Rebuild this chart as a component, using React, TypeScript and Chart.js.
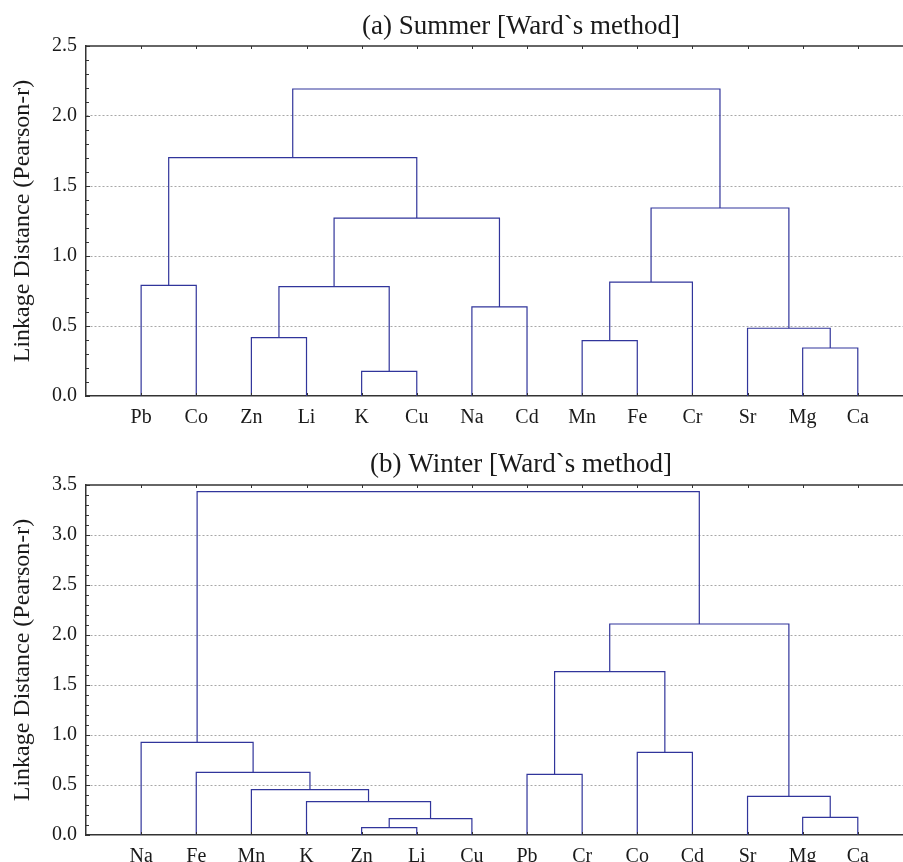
import React, { useEffect, useRef } from 'react';
import { Chart, registerables } from 'chart.js';

Chart.register(...registerables);

// ---------- Data ----------
const summerLeaves = ['Pb', 'Co', 'Zn', 'Li', 'K', 'Cu', 'Na', 'Cd', 'Mn', 'Fe', 'Cr', 'Sr', 'Mg', 'Ca'];
// merge k joins summerLeft[k] and summerRight[k] at summerHeight[k]; '#n' refers to merge n
const summerLeft = ['Pb', 'Zn', 'K', '#1', 'Na', '#3', '#0', 'Mn', '#7', 'Mg', 'Sr', '#8', '#6'];
const summerRight = ['Co', 'Li', 'Cu', '#2', 'Cd', '#4', '#5', 'Fe', 'Cr', 'Ca', '#9', '#10', '#11'];
const summerHeight = [0.79, 0.417, 0.176, 0.781, 0.636, 1.271, 1.703, 0.396, 0.814, 0.343, 0.484, 1.343, 2.193];

const winterLeaves = ['Na', 'Fe', 'Mn', 'K', 'Zn', 'Li', 'Cu', 'Pb', 'Cr', 'Co', 'Cd', 'Sr', 'Mg', 'Ca'];
const winterLeft = ['Zn', '#0', 'K', 'Mn', 'Fe', 'Na', 'Pb', 'Co', '#6', 'Mg', 'Sr', '#8', '#5'];
const winterRight = ['Li', 'Cu', '#1', '#2', '#3', '#4', 'Cr', 'Cd', '#7', 'Ca', '#9', '#10', '#11'];
const winterHeight = [0.073, 0.163, 0.333, 0.453, 0.627, 0.927, 0.607, 0.827, 1.633, 0.177, 0.387, 2.11, 3.433];

const summerTitle = '(a) Summer [Ward`s method]';
const winterTitle = '(b) Winter [Ward`s method]';
const yTitle = 'Linkage Distance (Pearson-r)';
const summerYMax = 2.5;
const winterYMax = 3.5;

// ---------- Helpers ----------
const LINE = '#31359b';
const AXIS = '#333333';
const TEXT = '#1a1a1a';
const FONT = '"Liberation Serif", "Times New Roman", serif';

function buildDatasets(leaves: string[], lefts: string[], rights: string[], heights: number[]) {
  const pos: { x: number; y: number }[] = [];
  const resolve = (ref: string) => {
    if (ref.startsWith('#')) return pos[parseInt(ref.slice(1), 10)];
    return { x: leaves.indexOf(ref), y: 0 };
  };
  const datasets: any[] = [];
  for (let k = 0; k < heights.length; k++) {
    const a = resolve(lefts[k]);
    const b = resolve(rights[k]);
    const h = heights[k];
    pos[k] = { x: (a.x + b.x) / 2, y: h };
    datasets.push({
      data: [
        { x: a.x, y: a.y },
        { x: a.x, y: h },
        { x: b.x, y: h },
        { x: b.x, y: b.y },
      ],
      showLine: true,
      borderColor: LINE,
      borderWidth: 1.2,
      pointRadius: 0,
      tension: 0,
      fill: false,
    });
  }
  return datasets;
}

const framePlugin = {
  id: 'dendroFrame',
  afterDraw(chart: any, _args: any, opts: any) {
    const { ctx, chartArea: a, scales } = chart;
    const ys = scales.y;
    const xs = scales.x;
    ctx.save();
    ctx.strokeStyle = AXIS;
    ctx.lineWidth = 1.5;
    ctx.beginPath();
    ctx.moveTo(a.left, a.top);
    ctx.lineTo(a.right, a.top);
    ctx.stroke();
    ctx.lineWidth = 1;
    ctx.beginPath();
    const n = Math.round(opts.yMax * 10);
    for (let k = 0; k <= n; k++) {
      const py = Math.round(ys.getPixelForValue(k / 10)) + 0.5;
      ctx.moveTo(a.left, py);
      ctx.lineTo(a.left + (k % 5 === 0 ? 4 : 3), py);
    }
    for (let i = 0; i < opts.count; i++) {
      const px = Math.round(xs.getPixelForValue(i)) + 0.5;
      ctx.moveTo(px, a.top);
      ctx.lineTo(px, a.top + 3);
      ctx.moveTo(px, a.bottom);
      ctx.lineTo(px, a.bottom - 3);
    }
    ctx.stroke();
    ctx.font = `27px ${FONT}`;
    ctx.fillStyle = TEXT;
    ctx.textAlign = 'center';
    ctx.textBaseline = 'middle';
    ctx.fillText(opts.text, opts.tx, opts.ty);
    ctx.restore();
  },
};

type Props = {
  leaves: string[];
  lefts: string[];
  rights: string[];
  heights: number[];
  yMax: number;
  title: string;
  top: number;
  height: number;
  areaTop: number;
  areaBottom: number;
  titleY: number;
};

function Dendrogram(p: Props) {
  const ref = useRef<HTMLCanvasElement>(null);
  useEffect(() => {
    if (!ref.current) return;
    const chart = new Chart(ref.current, {
      type: 'scatter',
      data: { datasets: buildDatasets(p.leaves, p.lefts, p.rights, p.heights) },
      plugins: [framePlugin],
      options: {
        responsive: false,
        animation: false,
        devicePixelRatio: 1,
        layout: { padding: { top: p.areaTop, left: 0, right: 0, bottom: 0 } },
        plugins: {
          legend: { display: false },
          tooltip: { enabled: false },
          title: { display: false },
          dendroFrame: { text: p.title, tx: 521, ty: p.titleY, yMax: p.yMax, count: p.leaves.length },
        } as any,
        scales: {
          x: {
            type: 'linear',
            min: -1,
            max: 13.82,
            afterFit: (s: any) => {
              s.height = p.height - p.areaBottom;
            },
            afterBuildTicks: (s: any) => {
              s.ticks = p.leaves.map((_, i) => ({ value: i }));
            },
            grid: { display: false, drawTicks: false },
            border: { display: true, color: AXIS, width: 1.5 },
            ticks: {
              autoSkip: false,
              maxRotation: 0,
              padding: 10,
              color: TEXT,
              font: { family: FONT, size: 20 },
              callback: (v: any) => p.leaves[Math.round(v)] ?? '',
            },
          },
          y: {
            type: 'linear',
            min: 0,
            max: p.yMax,
            afterFit: (s: any) => {
              s.width = 86;
            },
            grid: {
              drawTicks: false,
              color: (c: any) =>
                c.tick && (c.tick.value === 0 || Math.abs(c.tick.value - p.yMax) < 1e-9) ? 'rgba(0,0,0,0)' : '#a8a8a8',
              lineWidth: 1,
            },
            border: { display: true, color: AXIS, width: 1.5, dash: [2, 2] },
            ticks: {
              stepSize: 0.5,
              padding: 9,
              color: TEXT,
              font: { family: FONT, size: 20 },
              callback: (v: any) => Number(v).toFixed(1),
            },
            title: {
              display: true,
              text: yTitle,
              color: TEXT,
              font: { family: FONT, size: 24, lineHeight: 1 },
              padding: { top: 11, bottom: 0 },
            },
          },
        },
      } as any,
    });
    return () => chart.destroy();
  }, []);
  return (
    <canvas
      ref={ref}
      width={903}
      height={p.height}
      style={{ position: 'absolute', left: 0, top: p.top, display: 'block' }}
    />
  );
}

export default function App() {
  return (
    <div style={{ position: 'absolute', left: 0, top: 0, width: 903, height: 862, overflow: 'hidden', background: '#fff' }}>
      <Dendrogram
        leaves={summerLeaves}
        lefts={summerLeft}
        rights={summerRight}
        heights={summerHeight}
        yMax={summerYMax}
        title={summerTitle}
        top={0}
        height={430}
        areaTop={46}
        areaBottom={396}
        titleY={26.5}
      />
      <Dendrogram
        leaves={winterLeaves}
        lefts={winterLeft}
        rights={winterRight}
        heights={winterHeight}
        yMax={winterYMax}
        title={winterTitle}
        top={430}
        height={432}
        areaTop={55}
        areaBottom={405}
        titleY={35}
      />
    </div>
  );
}
